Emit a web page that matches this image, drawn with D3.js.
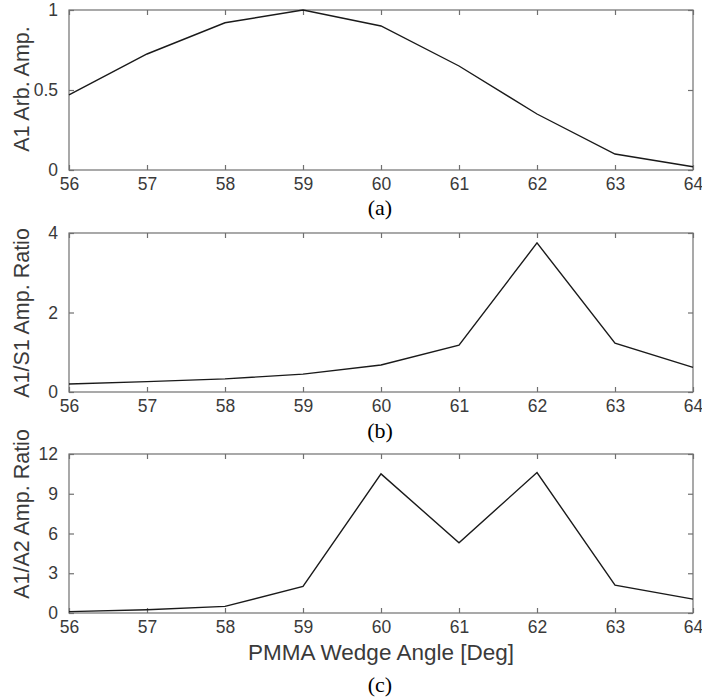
<!DOCTYPE html>
<html>
<head>
<meta charset="utf-8">
<script src="https://cdn.jsdelivr.net/npm/d3@7"></script>
<style>
  body { margin: 0; background: #fff; }
  svg { display: block; }
</style>
</head>
<body>
<div id="chart"></div>
<script>
// wedge angles (deg)
const angles = [56, 57, 58, 59, 60, 61, 62, 63, 64];

// (a) A1 arbitrary amplitude
const a1Amp = [0.47, 0.725, 0.92, 1.0, 0.9, 0.65, 0.35, 0.1, 0.02];
// (b) A1/S1 amplitude ratio
const a1s1Ratio = [0.2, 0.26, 0.33, 0.45, 0.68, 1.18, 3.75, 1.23, 0.62];
// (c) A1/A2 amplitude ratio
const a1a2Ratio = [0.1, 0.25, 0.5, 2.0, 10.5, 5.3, 10.6, 2.1, 1.05];

const yTicksA = [0, 0.5, 1];
const yTicksB = [0, 2, 4];
const yTicksC = [0, 3, 6, 9, 12];

const width = 702, height = 697;
const left = 69, right = 693;
const sans = 'Arial, "Liberation Sans", sans-serif';

const svg = d3.select('#chart').append('svg')
  .attr('width', width)
  .attr('height', height);

const x = d3.scaleLinear().domain([56, 64]).range([left, right]);

const axisColor = '#707070';
const textColor = '#3a3a3a';

function panel(opts) {
  const { values, top, bottom, yMax, yTicks, yTitle, yTitleCy, caption, captionY, xTitle } = opts;
  const y = d3.scaleLinear().domain([0, yMax]).range([bottom, top]);
  const g = svg.append('g');

  // box
  g.append('rect')
    .attr('x', left).attr('y', top)
    .attr('width', right - left).attr('height', bottom - top)
    .attr('fill', 'none').attr('stroke', axisColor).attr('stroke-width', 1.2);

  const styleAxis = sel => {
    sel.select('.domain').remove();
    sel.selectAll('.tick line').attr('stroke', axisColor).attr('stroke-width', 1.2);
    sel.selectAll('.tick text')
      .attr('fill', textColor)
      .attr('font-family', sans)
      .attr('font-size', 17.5);
  };

  // bottom axis with inward ticks
  g.append('g')
    .attr('transform', `translate(0,${bottom})`)
    .call(d3.axisBottom(x).tickValues(angles).tickFormat(d3.format('d'))
      .tickSizeInner(-5).tickSizeOuter(0).tickPadding(8))
    .call(styleAxis);
  // top mirror ticks
  g.append('g')
    .attr('transform', `translate(0,${top})`)
    .call(d3.axisTop(x).tickValues(angles).tickFormat('')
      .tickSizeInner(-5).tickSizeOuter(0))
    .call(styleAxis);
  // left axis
  g.append('g')
    .attr('transform', `translate(${left},0)`)
    .call(d3.axisLeft(y).tickValues(yTicks).tickFormat(d3.format('~g'))
      .tickSizeInner(-5).tickSizeOuter(0).tickPadding(11))
    .call(styleAxis);
  // right mirror ticks
  g.append('g')
    .attr('transform', `translate(${right},0)`)
    .call(d3.axisRight(y).tickValues(yTicks).tickFormat('')
      .tickSizeInner(-5).tickSizeOuter(0))
    .call(styleAxis);

  // line
  const line = d3.line().x((d, i) => x(angles[i])).y(d => y(d));
  g.append('path')
    .datum(values)
    .attr('d', line)
    .attr('fill', 'none')
    .attr('stroke', '#1a1a1a')
    .attr('stroke-width', 1.4);

  // y title
  g.append('text')
    .attr('transform', `translate(29,${yTitleCy}) rotate(-90)`)
    .attr('text-anchor', 'middle')
    .attr('font-family', sans)
    .attr('font-size', 21.5)
    .attr('fill', textColor)
    .text(yTitle);

  if (xTitle) {
    g.append('text')
      .attr('x', 381)
      .attr('y', bottom + 47)
      .attr('text-anchor', 'middle')
      .attr('font-family', sans)
      .attr('font-size', 22.5)
      .attr('fill', textColor)
      .text(xTitle);
  }

  // caption
  g.append('text')
    .attr('x', 380)
    .attr('y', captionY)
    .attr('text-anchor', 'middle')
    .attr('font-family', '"Liberation Serif", "Times New Roman", serif')
    .attr('font-size', 22)
    .attr('fill', '#000')
    .text(caption);
}

panel({ values: a1Amp, top: 10, bottom: 170, yMax: 1, yTicks: yTicksA,
  yTitle: 'A1 Arb. Amp.', yTitleCy: 89, caption: '(a)', captionY: 215 });
panel({ values: a1s1Ratio, top: 233, bottom: 392, yMax: 4, yTicks: yTicksB,
  yTitle: 'A1/S1 Amp. Ratio', yTitleCy: 313, caption: '(b)', captionY: 438 });
panel({ values: a1a2Ratio, top: 454, bottom: 613, yMax: 12, yTicks: yTicksC,
  yTitle: 'A1/A2 Amp. Ratio', yTitleCy: 514, caption: '(c)', captionY: 692,
  xTitle: 'PMMA Wedge Angle [Deg]' });
</script>
</body>
</html>
